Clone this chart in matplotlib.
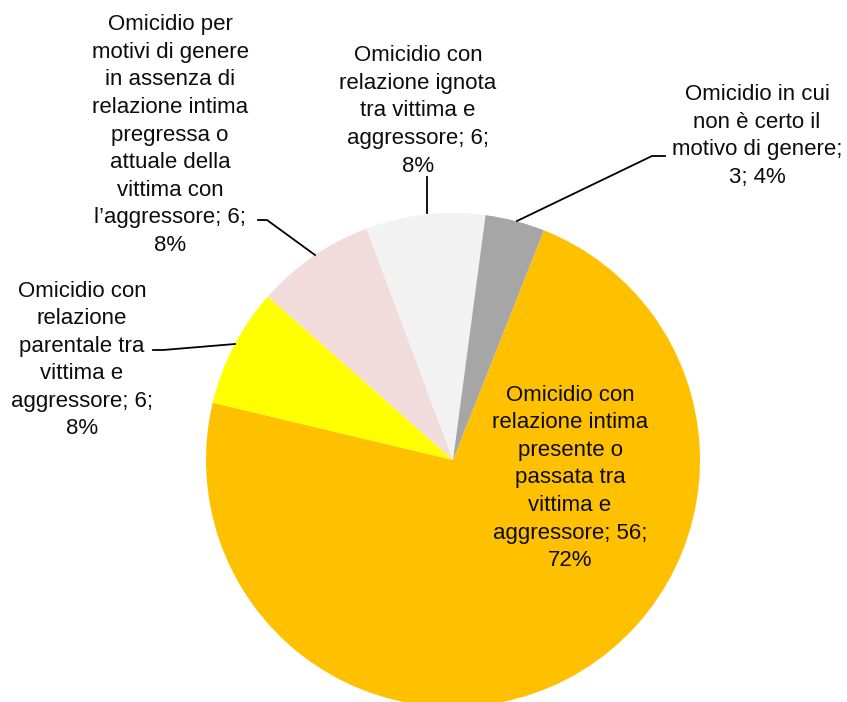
import matplotlib
matplotlib.use("Agg")
from matplotlib import pyplot as plt

plt.rcParams['font.family'] = ['Liberation Sans', 'DejaVu Sans']

# slices, clockwise from the big one
categories = [
    "Omicidio con\nrelazione intima\npresente o\npassata tra\nvittima e\naggressore",
    "Omicidio con\nrelazione\nparentale tra\nvittima e\naggressore",
    "Omicidio per\nmotivi di genere\nin assenza di\nrelazione intima\npregressa o\nattuale della\nvittima con\nl\u2019aggressore",
    "Omicidio con\nrelazione ignota\ntra vittima e\naggressore",
    "Omicidio in cui\nnon \u00e8 certo il\nmotivo di genere",
]
values = [56, 6, 6, 6, 3]
percents = [72, 8, 8, 8, 4]
colors = ['#FFC000', '#FFFF00', '#F2DCDB', '#F2F2F2', '#A6A6A6']

labels = []
for cat, v, p in zip(categories, values, percents):
    if cat.endswith("genere"):
        labels.append(f"{cat};\n{v}; {p}%")
    else:
        labels.append(f"{cat}; {v};\n{p}%")

W, H = 847, 702
fig = plt.figure(figsize=(W / 100, H / 100), dpi=100)
ax = fig.add_axes([0, 0, 1, 1])

cx, cy, r = 453, H - 460, 247
ax.pie(values, colors=colors, center=(cx, cy), radius=r, startangle=68.4,
       counterclock=False, frame=True, wedgeprops=dict(linewidth=0))
ax.set_xlim(0, W)
ax.set_ylim(0, H)
ax.set_aspect('equal')
ax.axis('off')

# label positions (pixel, from top)
label_pos = [(570, 478), (82, 360), (170, 135), (418, 111), (757, 136)]
for lab, (x, y) in zip(labels, label_pos):
    ax.text(x, H - y, lab, ha='center', va='center', fontsize=16,
            linespacing=1.41, color='#0D0D0D')

# leader lines
leaders = [
    [(153, 350), (163, 350), (235, 344)],
    [(258, 220), (267, 220), (315, 255)],
    [(427, 177), (427, 213)],
    [(665, 156), (652, 156), (517, 221)],
]
for pts in leaders:
    xs = [p[0] for p in pts]
    ys = [H - p[1] for p in pts]
    ax.plot(xs, ys, color='black', lw=1.3)

fig.savefig('out.png', dpi=100)
